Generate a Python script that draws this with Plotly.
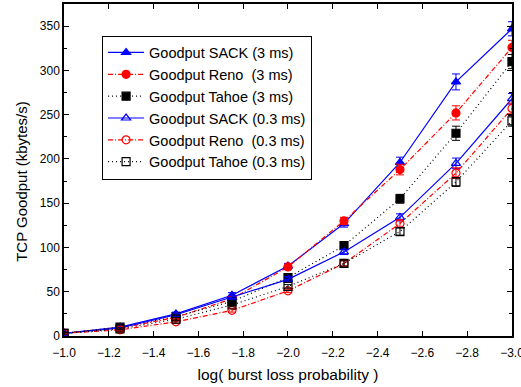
import plotly.graph_objects as go

x_vals = [-1.0, -1.25, -1.5, -1.75, -2.0, -2.25, -2.5, -2.75, -3.0]
sack_3 = [3, 10, 25, 46, 79, 127, 196, 287, 347]
reno_3 = [3, 9, 21, 42, 78, 130, 188, 252, 326]
tahoe_3 = [3, 10, 22, 39, 66, 102, 155, 229, 310]
sack_03 = [3, 9, 24, 44, 64, 95, 134, 195, 268]
reno_03 = [3, 7, 16, 29, 51, 82, 127, 184, 257]
tahoe_03 = [3, 8, 19, 35, 56, 82, 118, 174, 243]

err_sack_3 = [1, 1, 2, 3, 3, 4, 6, 9, 8]
err_reno_3 = [1, 1, 2, 2, 3, 4, 6, 8, 8]
err_tahoe_3 = [1, 1, 2, 2, 3, 4, 5, 8, 8]
err_sack_03 = [1, 1, 2, 2, 3, 3, 4, 6, 6]
err_reno_03 = [1, 1, 2, 2, 2, 3, 4, 6, 6]
err_tahoe_03 = [1, 1, 2, 2, 2, 3, 4, 5, 6]

names = ["Goodput SACK (3 ms)", "Goodput Reno  (3 ms)", "Goodput Tahoe (3 ms)",
         "Goodput SACK (0.3 ms)", "Goodput Reno  (0.3 ms)", "Goodput Tahoe (0.3 ms)"]
series = [sack_3, reno_3, tahoe_3, sack_03, reno_03, tahoe_03]
errors = [err_sack_3, err_reno_3, err_tahoe_3, err_sack_03, err_reno_03, err_tahoe_03]
colors = ["#0000ff", "#ff0000", "#000000", "#0000ff", "#ff0000", "#000000"]
dashes = ["solid", "5px,2px,1px,2px", "1px,3px", "solid", "5px,2px,1px,2px", "1px,3px"]
symbols = ["triangle-up", "circle", "square", "triangle-up-open", "circle-open", "square-open"]

FONT = "Liberation Sans, Arial, sans-serif"

fig = go.Figure()
for n, s, e, c, d, sym in zip(names, series, errors, colors, dashes, symbols):
    fig.add_trace(go.Scatter(
        x=x_vals, y=s, name=n, mode="lines+markers",
        line=dict(color=c, width=1.2, dash=d),
        marker=dict(symbol=sym, size=8, color=c, line=dict(color=c, width=1.2)),
        error_y=dict(type="data", array=e, color=c, thickness=1, width=4),
    ))

axis_font = dict(family=FONT, size=12, color="#000")
fig.update_layout(
    width=521, height=387,
    margin=dict(l=64, r=9, t=4, b=51, autoexpand=False),
    paper_bgcolor="white", plot_bgcolor="white",
    font=dict(family=FONT, color="#000"),
    showlegend=True,
    legend=dict(x=0.085, y=0.905, xanchor="left", yanchor="top",
                bordercolor="#000", borderwidth=1, bgcolor="white",
                font=dict(size=14.5, family=FONT), itemwidth=36,
                tracegroupgap=0),
    xaxis=dict(range=[-1.0, -3.0001], dtick=0.2, tick0=-1.0, tickformat=".1f",
               ticks="inside", ticklen=5, tickcolor="#000", mirror="ticks",
               showline=True, linecolor="#000", linewidth=1.5, showgrid=False,
               zeroline=False, tickfont=axis_font, ticklabelstandoff=5,
               ticklabeloverflow="allow", automargin=False,
               title=dict(text="log( burst loss probability )", font=dict(size=15.5), standoff=10)),
    yaxis=dict(range=[0, 375], dtick=50, tick0=0, automargin=False,
               ticks="inside", ticklen=5, tickcolor="#000", mirror="ticks",
               showline=True, linecolor="#000", linewidth=1.5, showgrid=False,
               zeroline=False, tickfont=axis_font,
               minor=dict(dtick=25, ticks="inside", ticklen=3, tickcolor="#000")),
    annotations=[dict(text="TCP Goodput (kbytes/s)", textangle=-90, xref="paper", yref="paper",
                      x=-0.094, y=0.467, xanchor="center", yanchor="middle", showarrow=False,
                      font=dict(size=15, family=FONT, color="#000"))],
)
fig.write_html("out.html")
